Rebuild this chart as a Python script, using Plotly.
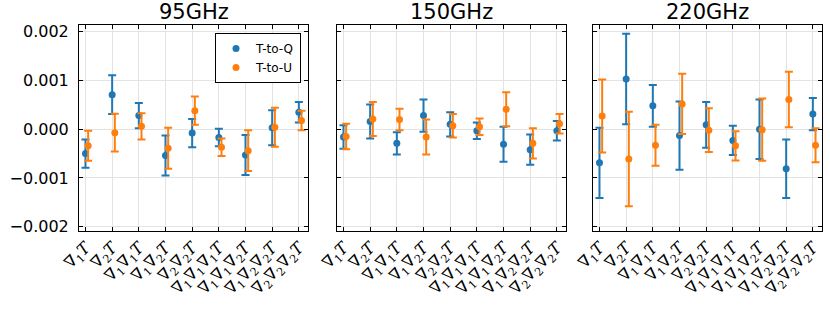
import plotly.graph_objects as go

bands = ["95GHz", "150GHz", "220GHz"]
tick_labels = [
    "∇<sub>1</sub><i>T</i>",
    "∇<sub>2</sub><i>T</i>",
    "∇<sub>1</sub>∇<sub>1</sub><i>T</i>",
    "∇<sub>1</sub>∇<sub>2</sub><i>T</i>",
    "∇<sub>2</sub>∇<sub>2</sub><i>T</i>",
    "∇<sub>1</sub>∇<sub>1</sub>∇<sub>1</sub><i>T</i>",
    "∇<sub>1</sub>∇<sub>1</sub>∇<sub>2</sub><i>T</i>",
    "∇<sub>1</sub>∇<sub>2</sub>∇<sub>2</sub><i>T</i>",
    "∇<sub>2</sub>∇<sub>2</sub>∇<sub>2</sub><i>T</i>",
]
y_tickvals = [-0.002, -0.001, 0.0, 0.001, 0.002]
y_ticktext = ["−0.002", "−0.001", "0.000", "0.001", "0.002"]

# values in units of 1e-3
tq_95 = [-0.50, 0.71, 0.28, -0.54, -0.08, -0.17, -0.53, 0.03, 0.35]
tq_95_err = [0.29, 0.40, 0.26, 0.41, 0.29, 0.18, 0.41, 0.36, 0.21]
tu_95 = [-0.34, -0.07, 0.06, -0.39, 0.38, -0.37, -0.44, 0.04, 0.18]
tu_95_err = [0.31, 0.39, 0.27, 0.42, 0.29, 0.18, 0.42, 0.40, 0.20]

tq_150 = [-0.16, 0.16, -0.29, 0.28, 0.10, -0.03, -0.31, -0.42, -0.03]
tq_150_err = [0.24, 0.35, 0.23, 0.33, 0.25, 0.17, 0.36, 0.31, 0.20]
tu_150 = [-0.15, 0.21, 0.20, -0.16, 0.07, 0.05, 0.41, -0.29, 0.11]
tu_150_err = [0.26, 0.35, 0.22, 0.36, 0.24, 0.17, 0.35, 0.31, 0.20]

tq_220 = [-0.69, 1.03, 0.48, -0.13, 0.09, -0.23, 0.00, -0.81, 0.31]
tq_220_err = [0.72, 0.93, 0.43, 0.70, 0.47, 0.30, 0.61, 0.60, 0.33]
tu_220 = [0.27, -0.61, -0.33, 0.52, -0.02, -0.34, -0.01, 0.61, -0.33]
tu_220_err = [0.75, 0.97, 0.42, 0.62, 0.45, 0.30, 0.64, 0.57, 0.35]

series = [
    (tq_95, tq_95_err, tu_95, tu_95_err),
    (tq_150, tq_150_err, tu_150, tu_150_err),
    (tq_220, tq_220_err, tu_220, tu_220_err),
]

blue = "#1f77b4"
orange = "#ff7f0e"
W, H = 830, 312
domains_px = [(79, 308), (337, 566), (593, 822)]
top_px, bot_px = 25, 231

fig = go.Figure()
xs = list(range(1, len(tick_labels) + 1))
for i, (q, qe, u, ue) in enumerate(series):
    xa = "x" if i == 0 else f"x{i+1}"
    ya = "y" if i == 0 else f"y{i+1}"
    fig.add_trace(go.Scatter(
        x=xs, y=[v * 1e-3 for v in q], mode="markers", name="T-to-Q",
        marker=dict(color=blue, size=7),
        error_y=dict(type="data", array=[e * 1e-3 for e in qe], color=blue, thickness=2, width=4),
        xaxis=xa, yaxis=ya, showlegend=(i == 0)))
    fig.add_trace(go.Scatter(
        x=[x + 0.1 for x in xs], y=[v * 1e-3 for v in u], mode="markers", name="T-to-U",
        marker=dict(color=orange, size=7),
        error_y=dict(type="data", array=[e * 1e-3 for e in ue], color=orange, thickness=2, width=4),
        xaxis=xa, yaxis=ya, showlegend=(i == 0)))

axis_common = dict(showline=True, linecolor="black", linewidth=1, mirror="allticks",
                   ticks="inside", ticklen=4, tickcolor="black", showgrid=True,
                   gridcolor="#e3e3e3", gridwidth=1, zeroline=False)

for i in range(3):
    x0, x1 = domains_px[i]
    xkey = "xaxis" if i == 0 else f"xaxis{i+1}"
    ykey = "yaxis" if i == 0 else f"yaxis{i+1}"
    fig.update_layout({
        xkey: dict(domain=[x0 / W, x1 / W], range=[0.757, 9.343], tickmode="array",
                   tickvals=xs, ticktext=tick_labels, tickangle=-45,
                   tickfont=dict(family="DejaVu Serif", size=16, color="black"),
                   anchor="y" if i == 0 else f"y{i+1}", **axis_common),
        ykey: dict(domain=[0, 1], range=[-0.00209, 0.00214], tickmode="array",
                   tickvals=y_tickvals, ticktext=y_ticktext,
                   showticklabels=(i == 0), ticklabelstandoff=6,
                   tickfont=dict(family="DejaVu Sans", size=16, color="black"),
                   anchor="x" if i == 0 else f"x{i+1}", **axis_common),
    })
    fig.add_annotation(x=(x0 + x1) / 2 / W, y=1, xref="paper", yref="paper",
                       xanchor="center", yanchor="bottom", yshift=0, borderpad=0,
                       text=bands[i], showarrow=False,
                       font=dict(family="DejaVu Sans", size=21, color="black"))

fig.update_layout(
    width=W, height=H,
    margin=dict(l=0, r=0, t=top_px, b=H - bot_px, autoexpand=False),
    plot_bgcolor="white", paper_bgcolor="white",
    legend=dict(x=301 / W, y=(bot_px - 33) / (bot_px - top_px),
                xanchor="right", yanchor="top",
                bgcolor="white", bordercolor="black", borderwidth=1,
                font=dict(family="DejaVu Sans", size=12, color="black"),
                itemwidth=30, tracegroupgap=0),
)

fig.write_html("out.html", config={"displayModeBar": False},
               post_script="document.body.style.margin='0px';")
